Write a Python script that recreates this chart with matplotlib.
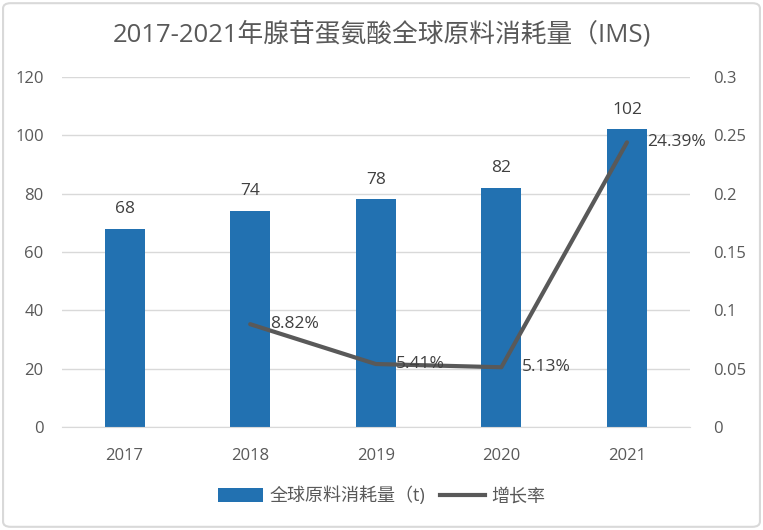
import matplotlib
matplotlib.use("Agg")
import matplotlib.pyplot as plt
from matplotlib.patches import FancyBboxPatch
from matplotlib.lines import Line2D
from matplotlib.patches import Patch

plt.rcParams['font.family'] = ['Open Sans', 'Noto Sans CJK SC', 'DejaVu Sans']

years = ['2017', '2018', '2019', '2020', '2021']
consumption = [68, 74, 78, 82, 102]
growth_years = ['2018', '2019', '2020', '2021']
growth = [0.0882, 0.0541, 0.0513, 0.2439]
growth_labels = ['8.82%', '5.41%', '5.13%', '24.39%']
left_ticks = [0, 20, 40, 60, 80, 100, 120]
right_ticks = [0, 0.05, 0.1, 0.15, 0.2, 0.25, 0.3]
right_tick_labels = ['0', '0.05', '0.1', '0.15', '0.2', '0.25', '0.3']

title = '2017-2021年腺苷蛋氨酸全球原料消耗量（IMS)'
bar_name = '全球原料消耗量（t)'
line_name = '增长率'

bar_color = '#2271B1'
line_color = '#595959'
text_color = '#595959'
label_color = '#404040'
grid_color = '#D9D9D9'

fig = plt.figure(figsize=(7.63, 5.30), dpi=100)
border = FancyBboxPatch((0.004, 0.006), 0.992, 0.988, boxstyle='round,pad=0,rounding_size=0.01',
                        transform=fig.transFigure, facecolor='white', edgecolor='#D9D9D9',
                        linewidth=1.5, zorder=-10)
fig.patches.append(border)

ax = fig.add_axes([0.081, 0.194, 0.823, 0.661])
ax.set_facecolor('none')
x = list(range(len(years)))
ax.bar(x, consumption, width=0.32, color=bar_color, zorder=2)
for xi, v in zip(x, consumption):
    ax.text(xi, v + 4, str(v), ha='center', va='bottom', fontsize=12.5, color=label_color)
ax.set_xlim(-0.5, len(years) - 0.5)
ax.set_ylim(0, 120)
ax.set_yticks(left_ticks)
ax.set_xticks(x)
ax.set_xticklabels(years)
ax.grid(axis='y', color=grid_color, linewidth=1, zorder=0)
ax.set_axisbelow(True)
for s in ['top', 'right', 'left']:
    ax.spines[s].set_visible(False)
ax.spines['bottom'].set_color(grid_color)
ax.tick_params(axis='both', length=0, labelsize=12, colors=text_color)
ax.tick_params(axis='x', pad=15)
ax.tick_params(axis='y', pad=13)

ax2 = ax.twinx()
gx = [years.index(y) for y in growth_years]
ax2.plot(gx, growth, color=line_color, linewidth=3, zorder=3, solid_capstyle='round')
for xi, g, lab in zip(gx, growth, growth_labels):
    ax2.text(xi + 0.16, g, lab, ha='left', va='center', fontsize=12.5, color=label_color)
ax2.set_ylim(0, 0.3)
ax2.set_yticks(right_ticks)
ax2.set_yticklabels(right_tick_labels)
for s in ax2.spines.values():
    s.set_visible(False)
ax2.tick_params(axis='y', length=0, labelsize=12, colors=text_color, pad=17)

fig.text(0.5, 0.936, title, ha='center', va='center', fontsize=18.5, color=text_color)

handles = [Patch(facecolor=bar_color, edgecolor='none'),
           Line2D([0], [0], color=line_color, linewidth=3)]
fig.legend(handles, [bar_name, line_name], loc='center', bbox_to_anchor=(0.5, 0.064),
           ncol=2, frameon=False, fontsize=13, labelcolor=text_color,
           handlelength=2.5, handleheight=0.8, columnspacing=0.8, handletextpad=0.35)

fig.savefig('out.png', dpi=100)
